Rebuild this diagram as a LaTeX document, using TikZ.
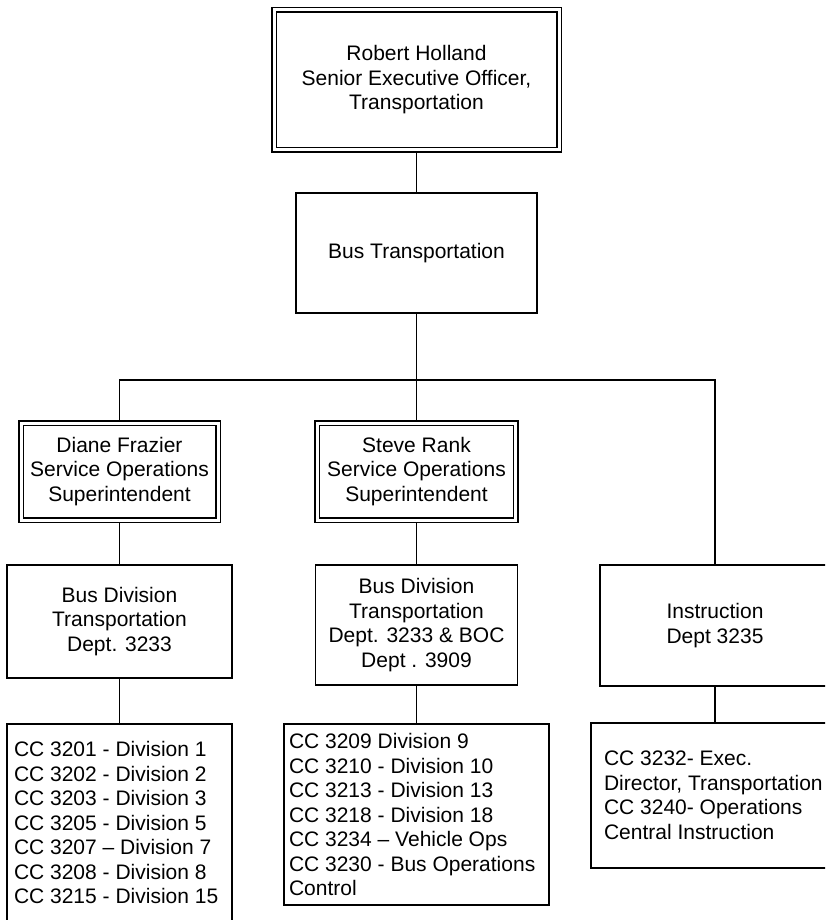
\documentclass[tikz,border=0pt]{standalone}
\usepackage{fontspec}
\setmainfont{Liberation Sans}
\usepackage{tikz}
\usetikzlibrary{positioning}
\tikzset{
  orgbox/.style={
    draw,
    line width=1.4pt,
    inner sep=0pt,
    align=center,
    font=\fontsize{21}{24.5}\selectfont
  },
  headbox/.style={
    orgbox,
    double,
    line width=1.5pt,
    double distance=3pt,
    outer sep=3pt
  },
  listbox/.style={
    orgbox,
    align=flush left,
    inner xsep=7pt
  },
  link/.style={
    line width=1.4pt
  }
}
\begin{document}
\begin{tikzpicture}[x=1pt,y=-1pt]
\useasboundingbox (0,0) rectangle (825,920);
\clip (0,0) rectangle (825,920);
\node[headbox, minimum width=285pt, minimum height=140pt] (holland) at (416.5,80) {Robert Holland\\Senior Executive Officer,\\Transportation};
\node[orgbox, minimum width=241pt, minimum height=120pt] (bustrans) at (416.5,253) {Bus Transportation};
\node[headbox, minimum width=197pt, minimum height=97pt] (diane) at (119.5,471.5) {Diane Frazier\\Service Operations\\Superintendent};
\node[headbox, minimum width=198.5pt, minimum height=97pt] (steve) at (416.5,471.5) {Steve Rank\\Service Operations\\Superintendent};
\node[orgbox, minimum width=225pt, minimum height=113pt] (leftdiv) at (119.5,621.5) {Bus Division\\Transportation\\Dept. 3233};
\node[orgbox, minimum width=202pt, minimum height=120pt] (middiv) at (416.5,625) {Bus Division\\Transportation\\Dept. 3233 \& BOC\\Dept . 3909};
\node[orgbox, minimum width=230pt, minimum height=121pt] (instr) at (715,625.5) {Instruction\\Dept 3235};
\node[listbox, text width=211pt, minimum height=197.5pt] (leftlist) at (119.5,822.75) {CC 3201 - Division 1\\CC 3202 - Division 2\\CC 3203 - Division 3\\CC 3205 - Division 5\\CC 3207 – Division 7\\CC 3208 - Division 8\\CC 3215 - Division 15};
\node[listbox, text width=255pt, inner xsep=5pt, minimum height=181pt] (midlist) at (416.5,814.5) {CC 3209 Division 9\\CC 3210 - Division 10\\CC 3213 - Division 13\\CC 3218 - Division 18\\CC 3234 – Vehicle Ops\\CC 3230 - Bus Operations\\Control};
\node[listbox, text width=222pt, inner xsep=13pt, minimum height=145pt] (instrlist) at (715,795.5) {CC 3232- Exec.\\Director, Transportation\\CC 3240- Operations\\Central Instruction};
\coordinate (fork) at (416.5,380);
\draw[link] (bustrans.south) -- (fork);
\draw[link] (fork) -- (steve.north);
\foreach \t in {diane,instr} {
  \draw[link] (fork) -| (\t.north);
}
\foreach \a/\b in {holland/bustrans,diane/leftdiv,leftdiv/leftlist,steve/middiv,middiv/midlist,instr/instrlist} {
  \draw[link] (\a.south) -- (\b.north);
}
\end{tikzpicture}
\end{document}
